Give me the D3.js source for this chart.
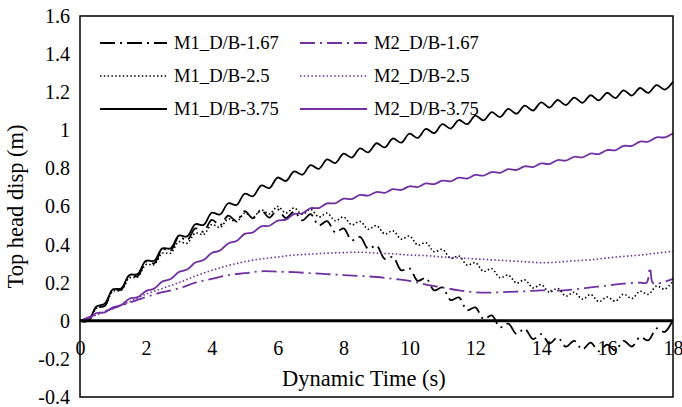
<!DOCTYPE html>
<html>
<head>
<meta charset="utf-8">
<script src="https://d3js.org/d3.v7.min.js"></script>
<style>
body{ margin:0; background:#fff; }
svg text{ font-family:"Liberation Serif","Times New Roman",serif !important; fill:#000; }
.tick line{ visibility:hidden; }
.domain{ visibility:hidden; }
</style>
</head>
<body>
<div id="chart"></div>
<script>
// time grids (s)
const tFine = [0,0.25,0.5,0.75,1,1.25,1.5,1.75,2,2.25,2.5,2.75,3,3.25,3.5,3.75,4,4.25,4.5,4.75,5,5.25,5.5,5.75,6,6.25,6.5,6.75,7,7.25,7.5,7.75,8,8.25,8.5,8.75,9,9.25,9.5,9.75,10,10.25,10.5,10.75,11,11.25,11.5,11.75,12,12.25,12.5,12.75,13,13.25,13.5,13.75,14,14.25,14.5,14.75,15,15.25,15.5,15.75,16,16.25,16.5,16.75,17,17.25,17.5,17.75,18];
const tHalf = [0,0.5,1,1.5,2,2.5,3,3.5,4,4.5,5,5.5,6,6.5,7,7.5,8,8.5,9,9.5,10,10.5,11,11.5,12,12.5,13,13.5,14,14.5,15,15.5,16,16.5,17,17.5,18];
const tM2_167 = [0,0.5,1,1.5,2,2.5,3,3.5,4,4.5,5,5.5,6,6.5,7,7.5,8,8.5,9,9.5,10,10.5,11,11.5,12,12.5,13,13.5,14,14.5,15,15.5,16,16.5,17,17.2,17.3,17.38,17.5,18];

// displacement (m)
const m1_167 = [0,0,0.07,0.078,0.165,0.163,0.238,0.234,0.31,0.302,0.375,0.368,0.44,0.423,0.485,0.468,0.53,0.502,0.552,0.524,0.575,0.538,0.58,0.542,0.585,0.539,0.573,0.527,0.56,0.501,0.523,0.464,0.485,0.423,0.44,0.378,0.395,0.325,0.335,0.265,0.275,0.21,0.225,0.16,0.175,0.109,0.123,0.056,0.07,0.009,0.028,-0.034,-0.015,-0.069,-0.042,-0.096,-0.07,-0.119,-0.088,-0.136,-0.105,-0.15,-0.115,-0.16,-0.125,-0.155,-0.105,-0.135,-0.085,-0.103,-0.04,-0.058,0.005];
const m1_25 = [0,0,0.065,0.08,0.155,0.16,0.225,0.23,0.295,0.295,0.355,0.355,0.415,0.407,0.46,0.453,0.505,0.49,0.535,0.52,0.565,0.544,0.582,0.561,0.6,0.566,0.592,0.559,0.585,0.545,0.565,0.525,0.545,0.504,0.522,0.481,0.5,0.456,0.472,0.429,0.445,0.398,0.41,0.363,0.375,0.328,0.34,0.293,0.305,0.259,0.273,0.226,0.24,0.198,0.215,0.173,0.19,0.15,0.17,0.13,0.15,0.114,0.138,0.101,0.125,0.103,0.14,0.117,0.155,0.139,0.182,0.166,0.21];
const m1_375 = [0,0,0.075,0.09,0.165,0.17,0.24,0.245,0.315,0.315,0.38,0.38,0.447,0.443,0.507,0.503,0.567,0.558,0.617,0.608,0.667,0.654,0.71,0.697,0.752,0.734,0.784,0.767,0.817,0.798,0.847,0.828,0.877,0.857,0.905,0.884,0.932,0.91,0.957,0.935,0.982,0.96,1.007,0.985,1.032,1.009,1.054,1.032,1.077,1.052,1.095,1.069,1.112,1.087,1.129,1.104,1.147,1.119,1.159,1.132,1.172,1.144,1.184,1.157,1.197,1.169,1.21,1.182,1.222,1.196,1.237,1.214,1.255];
const m2_167 = [0,0.035,0.065,0.095,0.125,0.15,0.17,0.2,0.22,0.24,0.25,0.26,0.258,0.255,0.25,0.245,0.24,0.235,0.23,0.22,0.21,0.19,0.175,0.16,0.15,0.148,0.152,0.155,0.16,0.158,0.165,0.175,0.185,0.195,0.2,0.2,0.28,0.2,0.195,0.22];
const m2_25 = [0,0.03,0.065,0.1,0.14,0.17,0.2,0.235,0.265,0.29,0.31,0.325,0.335,0.345,0.35,0.355,0.358,0.36,0.355,0.352,0.345,0.342,0.335,0.33,0.325,0.32,0.315,0.31,0.305,0.308,0.315,0.32,0.33,0.338,0.345,0.355,0.365];
const m2_375 = [0,0.01,0.041,0.044,0.071,0.082,0.116,0.124,0.156,0.169,0.206,0.219,0.256,0.269,0.306,0.319,0.356,0.369,0.406,0.419,0.456,0.464,0.496,0.499,0.526,0.531,0.561,0.564,0.591,0.592,0.616,0.617,0.641,0.639,0.661,0.657,0.676,0.672,0.691,0.687,0.706,0.702,0.721,0.717,0.736,0.732,0.751,0.747,0.766,0.762,0.781,0.777,0.796,0.792,0.811,0.807,0.826,0.823,0.844,0.841,0.861,0.858,0.878,0.875,0.896,0.895,0.918,0.918,0.941,0.94,0.963,0.963,0.985];

const xTicks = [0,2,4,6,8,10,12,14,16,18];
const yTicks = [-0.4,-0.2,0,0.2,0.4,0.6,0.8,1,1.2,1.4,1.6];

const PURPLE = "#7030a0";
const series = [
  {name:"M1_D/B-1.67", t:tFine, v:m1_167, color:"#000", dash:"15,5,2,5", w:1.8},
  {name:"M2_D/B-1.67", t:tM2_167, v:m2_167, color:PURPLE, dash:"15,5,2,5", w:1.8},
  {name:"M1_D/B-2.5", t:tFine, v:m1_25, color:"#000", dash:"1.5,2.3", w:1.6},
  {name:"M2_D/B-2.5", t:tHalf, v:m2_25, color:PURPLE, dash:"1.5,2.3", w:1.6},
  {name:"M1_D/B-3.75", t:tFine, v:m1_375, color:"#000", dash:null, w:1.8},
  {name:"M2_D/B-3.75", t:tFine, v:m2_375, color:PURPLE, dash:null, w:1.8}
];

const width = 682, height = 407;
const margin = {top:16, right:9, bottom:10, left:80};

const svg = d3.select("#chart").append("svg")
  .attr("width", width).attr("height", height);

let x = d3.scaleLinear().domain([0,18]).range([margin.left, width - margin.right]);
let y = d3.scaleLinear().domain([-0.4,1.6]).range([height - margin.bottom, margin.top]);

const fmt = d => String(+d.toFixed(1));

// y axis labels
svg.append("g")
  .attr("transform", "translate(" + margin.left + ",0)")
  .call(d3.axisLeft(y).tickValues(yTicks).tickSize(0).tickPadding(10).tickFormat(fmt))
  .selectAll("text").attr("font-size", 20);

// x axis labels, below the zero line
svg.append("g")
  .attr("transform", "translate(0," + y(0) + ")")
  .call(d3.axisBottom(x).tickValues(xTicks).tickSize(0).tickPadding(20).tickFormat(fmt))
  .selectAll("text").attr("font-size", 20);

const line = d3.line()
  .defined(d => d[1] != null)
  .x(d => x(d[0]))
  .y(d => y(d[1]))
  .curve(d3.curveCatmullRom.alpha(0.5));

series.forEach(s => {
  svg.append("path")
    .datum(s.t.map((t, i) => [t, s.v[i]]))
    .attr("fill", "none")
    .attr("stroke", s.color)
    .attr("stroke-width", s.w)
    .attr("stroke-dasharray", s.dash)
    .attr("d", line);
});

// zero line
svg.append("line")
  .attr("x1", x(0)).attr("x2", x(18))
  .attr("y1", y(0)).attr("y2", y(0))
  .attr("stroke", "#000").attr("stroke-width", 3);

// plot frame
svg.append("rect")
  .attr("x", x(0)).attr("y", y(1.6))
  .attr("width", x(18) - x(0)).attr("height", y(-0.4) - y(1.6))
  .attr("fill", "none").attr("stroke", "#000").attr("stroke-width", 1.5);

// legend
const legCols = [100, 300];
const legRows = [43, 76, 109];
series.forEach((s, i) => {
  const lx = legCols[i % 2], ly = legRows[Math.floor(i / 2)];
  svg.append("line")
    .attr("x1", lx).attr("x2", lx + 67).attr("y1", ly).attr("y2", ly)
    .attr("stroke", s.color).attr("stroke-width", s.w)
    .attr("stroke-dasharray", s.dash);
  svg.append("text")
    .attr("x", lx + 74).attr("y", ly + 6)
    .attr("font-size", 18.6)
    .text(s.name);
});

// axis titles
svg.append("text")
  .attr("x", 364).attr("y", 386)
  .attr("text-anchor", "middle").attr("font-size", 22.5)
  .text("Dynamic Time (s)");

svg.append("text")
  .attr("transform", "translate(23," + ((y(1.6) + y(-0.4)) / 2) + ") rotate(-90)")
  .attr("text-anchor", "middle").attr("font-size", 22.5)
  .text("Top head disp (m)");
</script>
</body>
</html>
